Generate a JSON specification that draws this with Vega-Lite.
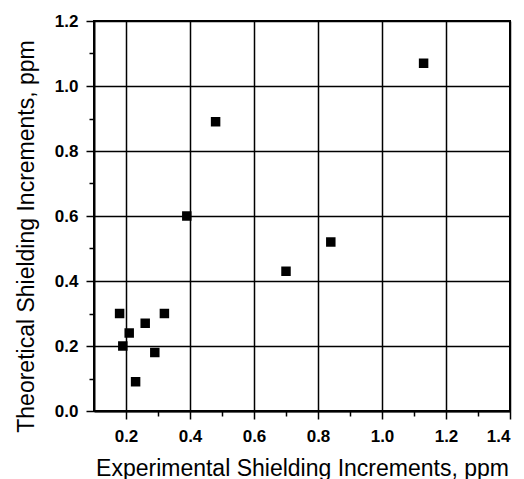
{
  "$schema": "https://vega.github.io/schema/vega-lite/v6.json",
  "width": 416,
  "height": 390,
  "autosize": {"type": "none"},
  "padding": {"left": 94, "top": 21, "right": 14, "bottom": 68},
  "background": "white",
  "config": {
    "view": {"stroke": "black", "strokeWidth": 2},
    "axis": {
      "labelFont": "Liberation Sans",
      "titleFont": "Liberation Sans",
      "labelColor": "black",
      "titleColor": "black",
      "domainColor": "black",
      "tickColor": "black",
      "gridColor": "black",
      "gridOpacity": 1
    }
  },
  "data": {
    "values": [
      {"exp": 1.13, "theo": 1.07},
      {"exp": 0.48, "theo": 0.89},
      {"exp": 0.39, "theo": 0.60},
      {"exp": 0.70, "theo": 0.43},
      {"exp": 0.84, "theo": 0.52},
      {"exp": 0.18, "theo": 0.30},
      {"exp": 0.19, "theo": 0.20},
      {"exp": 0.21, "theo": 0.24},
      {"exp": 0.23, "theo": 0.09},
      {"exp": 0.26, "theo": 0.27},
      {"exp": 0.29, "theo": 0.18},
      {"exp": 0.32, "theo": 0.30}
    ]
  },
  "layer": [
    {
      "mark": {"type": "point", "opacity": 0},
      "encoding": {
        "x": {
          "field": "exp", "type": "quantitative",
          "scale": {"domain": [0.1, 1.4], "nice": false, "zero": false},
          "axis": {"orient": "bottom", "values": [0.3, 0.5, 0.7, 0.9, 1.1, 1.3], "labels": false, "grid": false, "domain": false, "tickSize": 5, "tickWidth": 1.5, "title": null}
        },
        "y": {
          "field": "theo", "type": "quantitative",
          "scale": {"domain": [0, 1.2], "nice": false},
          "axis": {"orient": "left", "values": [0.1, 0.3, 0.5, 0.7, 0.9, 1.1], "labels": false, "grid": false, "domain": false, "tickSize": 5, "tickWidth": 1.5, "title": null}
        }
      }
    },
    {
      "mark": {"type": "square", "filled": true, "color": "black", "size": 90, "opacity": 1},
      "encoding": {
        "x": {
          "field": "exp", "type": "quantitative",
          "scale": {"domain": [0.1, 1.4], "nice": false, "zero": false},
          "axis": {
            "orient": "bottom",
            "values": [0.2, 0.4, 0.6, 0.8, 1.0, 1.2, 1.4],
            "format": ".1f",
            "grid": true, "gridWidth": 1.5,
            "domainWidth": 2, "tickSize": 8, "tickWidth": 1.5,
            "labelFontSize": 17, "labelFontWeight": "bold", "labelPadding": 9,
            "title": "Experimental Shielding Increments, ppm",
            "titleFontSize": 23, "titleFontWeight": "normal",
            "titleBaseline": "alphabetic", "titleY": 64, "titleX": 208, "titleAlign": "center"
          }
        },
        "y": {
          "field": "theo", "type": "quantitative",
          "scale": {"domain": [0, 1.2], "nice": false},
          "axis": {
            "orient": "left",
            "values": [0, 0.2, 0.4, 0.6, 0.8, 1.0, 1.2],
            "format": ".1f",
            "grid": true, "gridWidth": 1.5,
            "domainWidth": 2, "tickSize": 8, "tickWidth": 1.5,
            "labelFontSize": 17, "labelFontWeight": "bold", "labelPadding": 8,
            "title": "Theoretical Shielding Increments, ppm",
            "titleFontSize": 23, "titleFontWeight": "normal",
            "titleBaseline": "alphabetic", "titleAngle": 270, "titleX": -61, "titleY": 215, "titleAlign": "center"
          }
        }
      }
    }
  ],
  "resolve": {"axis": {"x": "independent", "y": "independent"}}
}
